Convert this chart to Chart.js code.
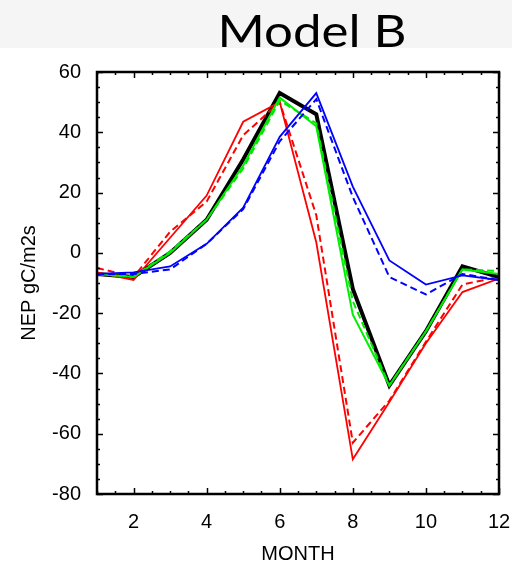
<!DOCTYPE html>
<html>
<head>
<meta charset="utf-8">
<script src="https://cdn.jsdelivr.net/npm/chart.js@4"></script>
<style>
    body { margin: 0; background: #fff; }
    canvas { display: block; }
</style>
</head>
<body>
<canvas id="nepChart" width="512" height="566"></canvas>
<script>
// monthly NEP
const months = [1, 2, 3, 4, 5, 6, 7, 8, 9, 10, 11, 12];
const xTicks = [2, 4, 6, 8, 10, 12];

const blackSolid = [-7, -8, 0, 11, 31, 53, 46, -12, -44, -26, -4.5, -8];
const greenSolid = [-7, -8, 0, 11, 29, 51.5, 42, -20.5, -44, -26, -5.5, -7];
const greenDashed = [-7, -8, 0.5, 11, 28, 50.5, 43, -16, -44, -26, -5.5, -6];
const redSolid = [-6.5, -9, 5, 19, 43.5, 50, 3.5, -68.5, -49.5, -30, -13, -8.5];
const redDashed = [-5, -8, 7, 17, 39, 50, 12.5, -63, -49, -29.5, -10.5, -8];
const blueSolid = [-7, -6.5, -4.5, 3, 15, 38.5, 53, 22, -2.5, -10.5, -7.5, -9];
const blueDashed = [-7, -7, -5.5, 3, 14.5, 37, 51, 18.5, -8, -13.8, -7, -9];

const toXY = (vals) => vals.map((v, i) => ({ x: months[i], y: v }));

function line(vals, color, width, dashed, order) {
    return {
        data: toXY(vals),
        borderColor: color,
        borderWidth: width,
        borderDash: dashed ? [7, 4] : [],
        pointRadius: 0,
        tension: 0,
        order: order,
    };
}

// light band behind the title + the title itself
const titleBand = {
    id: "titleBand",
    beforeDraw(chart) {
        const ctx = chart.ctx;
        ctx.save();
        ctx.fillStyle = "#f5f5f5";
        ctx.fillRect(0, 0, chart.width, 48);
        ctx.restore();
    },
    afterDraw(chart) {
        const ctx = chart.ctx;
        ctx.save();
        ctx.fillStyle = "#000";
        ctx.font = "44px Lato";
        ctx.textAlign = "center";
        ctx.textBaseline = "alphabetic";
        // the original face is wider than Lato, stretch it a bit
        const w = ctx.measureText("Model B").width;
        ctx.translate(312, 47);
        ctx.scale(189 / w, 1);
        ctx.fillText("Model B", 0, 0);
        ctx.restore();
    },
};

// box around the plot with inward ticks on all four sides
const frameTicks = {
    id: "frameTicks",
    afterDatasetsDraw(chart) {
        const { ctx, chartArea: a, scales } = chart;
        const xs = scales.x;
        const ys = scales.y;
        ctx.save();
        ctx.strokeStyle = "#000";
        ctx.lineWidth = 1.5;
        ctx.beginPath();
        for (let m = 1; m <= 12.001; m += 0.5) {
            const px = Math.round(xs.getPixelForValue(m)) + 0.5;
            const len = m % 2 === 0 ? 6 : 3;
            ctx.moveTo(px, a.bottom);
            ctx.lineTo(px, a.bottom - len);
            ctx.moveTo(px, a.top);
            ctx.lineTo(px, a.top + len);
        }
        for (let v = -80; v <= 60; v += 5) {
            const py = Math.round(ys.getPixelForValue(v)) + 0.5;
            const len = v % 20 === 0 ? 6 : 3;
            ctx.moveTo(a.left, py);
            ctx.lineTo(a.left + len, py);
            ctx.moveTo(a.right, py);
            ctx.lineTo(a.right - len, py);
        }
        ctx.stroke();
        ctx.lineWidth = 2.5;
        ctx.strokeRect(a.left, a.top, a.right - a.left, a.bottom - a.top);
        ctx.restore();
    },
};

const tickFont = { family: "Liberation Sans, Arial", size: 20 };

new Chart(document.getElementById("nepChart"), {
    type: "line",
    data: {
        datasets: [
            line(blueDashed, "#0000ff", 2, true, 1),
            line(blueSolid, "#0000ff", 1.8, false, 2),
            line(greenDashed, "#00e600", 2, true, 3),
            line(greenSolid, "#00ee00", 2, false, 4),
            line(redDashed, "#ff0000", 2, true, 5),
            line(redSolid, "#ff0000", 1.8, false, 6),
            line(blackSolid, "#000000", 4, false, 7),
        ],
    },
    options: {
        responsive: false,
        devicePixelRatio: 1,
        animation: false,
        layout: { padding: { top: 72, right: 13, bottom: 0, left: 0 } },
        plugins: {
            legend: { display: false },
            tooltip: { enabled: false },
        },
        scales: {
            x: {
                type: "linear",
                min: 1,
                max: 12,
                afterBuildTicks: (scale) => {
                    scale.ticks = xTicks.map((v) => ({ value: v }));
                },
                afterFit: (scale) => {
                    scale.height = 72;
                    scale.paddingLeft = 0;
                    scale.paddingRight = 0;
                },
                grid: { display: false, drawTicks: false },
                border: { display: false },
                ticks: { color: "#000", font: tickFont, padding: 16, maxRotation: 0 },
                title: {
                    display: true,
                    text: "MONTH",
                    color: "#000",
                    font: tickFont,
                    padding: 0,
                },
            },
            y: {
                type: "linear",
                min: -80,
                max: 60,
                ticks: { stepSize: 20, color: "#000", font: tickFont, padding: 16 },
                afterFit: (scale) => {
                    scale.width = 97;
                    scale.paddingTop = 0;
                    scale.paddingBottom = 0;
                },
                grid: { display: false, drawTicks: false },
                border: { display: false },
                title: {
                    display: true,
                    text: "NEP gC/m2s",
                    color: "#000",
                    font: tickFont,
                    padding: { top: 17, bottom: 0 },
                },
            },
        },
    },
    plugins: [titleBand, frameTicks],
});
</script>
</body>
</html>
